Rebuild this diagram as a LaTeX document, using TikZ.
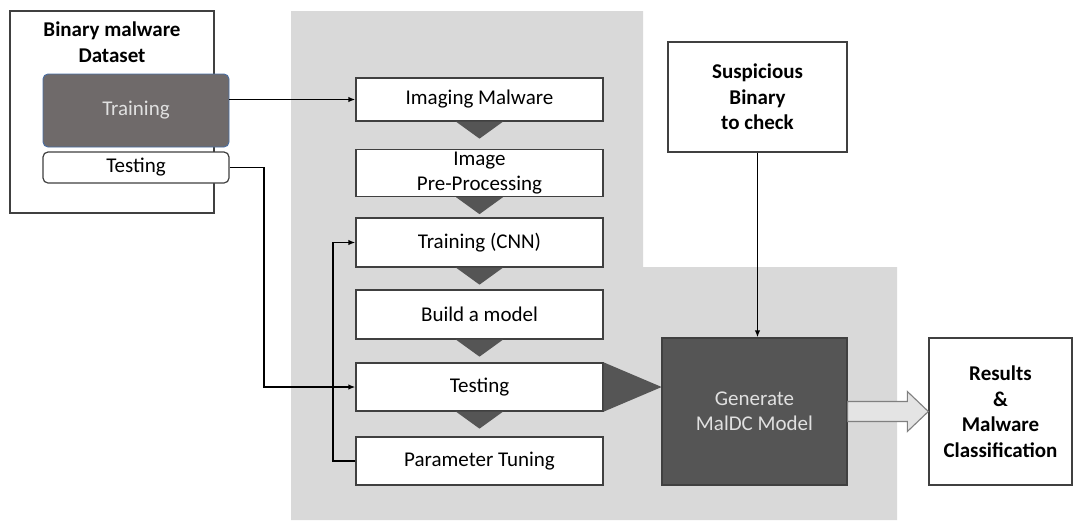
\documentclass[tikz,border=0pt]{standalone}
\usepackage{fontspec}
\setmainfont{Carlito}
\usetikzlibrary{arrows.meta,calc}
\definecolor{bggray}{HTML}{D9D9D9}
\definecolor{darkfill}{HTML}{555555}
\definecolor{trainfill}{HTML}{6F6A6A}
\definecolor{trainedge}{HTML}{4A6FA5}
\definecolor{edgegray}{HTML}{404040}
\tikzset{
  txt/.style={font=\fontsize{21}{25}\selectfont, align=center, inner sep=0pt},
  btxt/.style={font=\fontsize{21}{25.5}\selectfont\bfseries, align=center, inner sep=0pt},
  stepbox/.style={txt, draw=edgegray, line width=1.3pt, fill=white, minimum width=247},
  tri/.style={fill=darkfill},
  conn/.style={line width=1.8pt, -{Latex[length=7pt,width=5.5pt]}},
}
\begin{document}
\begin{tikzpicture}[x=1pt,y=-1pt]
\useasboundingbox (0,0) rectangle (1073,520);
\fill[white] (0,0) rectangle (1073,520);
% grey background region
\fill[bggray] (291,11) -- (643,11) -- (643,267) -- (897,267) -- (897,520) -- (291,520) -- cycle;

% dataset
\node[draw=edgegray, line width=1.2pt, minimum width=204, minimum height=202, inner sep=0pt] (ds) at (112,112) {};
\node[btxt, anchor=north] (dstitle) at (112,22) {Binary malware\\Dataset};
\node[txt, draw=trainedge, line width=0.9pt, fill=trainfill, rounded corners=5pt, minimum width=186, minimum height=73, text=white!88!black] (trn) at (136,110.5) {Training};
\node[txt, draw=edgegray, line width=1.2pt, fill=white, rounded corners=5pt, minimum width=186, minimum height=31] (tst) at (136,167.5) {Testing};

% pipeline
\node[stepbox, minimum height=43] (img) at (479.5,99.5) {Imaging Malware};
\node[stepbox, minimum height=47] (pre) at (479.5,173) {Image\\Pre-Processing};
\node[stepbox, minimum height=49] (cnn) at (479.5,242.5) {Training (CNN)};
\node[stepbox, minimum height=49] (bld) at (479.5,314.5) {Build a model};
\node[stepbox, minimum height=48] (tes) at (479.5,387) {Testing};
\node[stepbox, minimum height=48] (tun) at (479.5,461) {Parameter Tuning};

\foreach \n in {img,pre,cnn,bld,tes}{
  \fill[tri] ($(\n.south)+(-23.5,0)$) -- ($(\n.south)+(23.5,0)$) -- ($(\n.south)+(0,17)$) -- cycle;
}
\fill[tri] (tes.north east) -- (tes.south east) -- ($(tes.east)+(58,0)$) -- cycle;

% right side
\node[btxt, draw=edgegray, line width=1.3pt, fill=white, minimum width=179, minimum height=110] (sus) at (757.5,97) {Suspicious\\Binary\\to check};
\node[txt, draw=edgegray, line width=1.3pt, fill=darkfill, text=white!88!black, minimum width=185, minimum height=147] (gen) at (754.5,411.5) {Generate\\MalDC Model};
\node[btxt, draw=edgegray, line width=1.3pt, fill=white, minimum width=143, minimum height=147] (res) at (1000.5,411.5) {Results\\\&\\Malware\\Classification};

% connectors
\draw[conn] (trn.east |- img.west) -- (img.west);
\draw[conn] (tst.east) -- ++(34,0) |- (tes.west);
\draw[conn] (tun.west) -- ++(-22,0) |- (cnn.west);
\draw[conn] (sus.south) -- (sus.south |- gen.north);
\draw[draw=gray, line width=1.1pt, fill=bggray!70!white]
  ($(gen.east)+(0,-10)$) -- ($(res.west)+(-21,-10)$) -- ($(res.west)+(-21,-20)$) -- (res.west)
  -- ($(res.west)+(-21,20)$) -- ($(res.west)+(-21,10)$) -- ($(gen.east)+(0,10)$) -- cycle;
\end{tikzpicture}
\end{document}
